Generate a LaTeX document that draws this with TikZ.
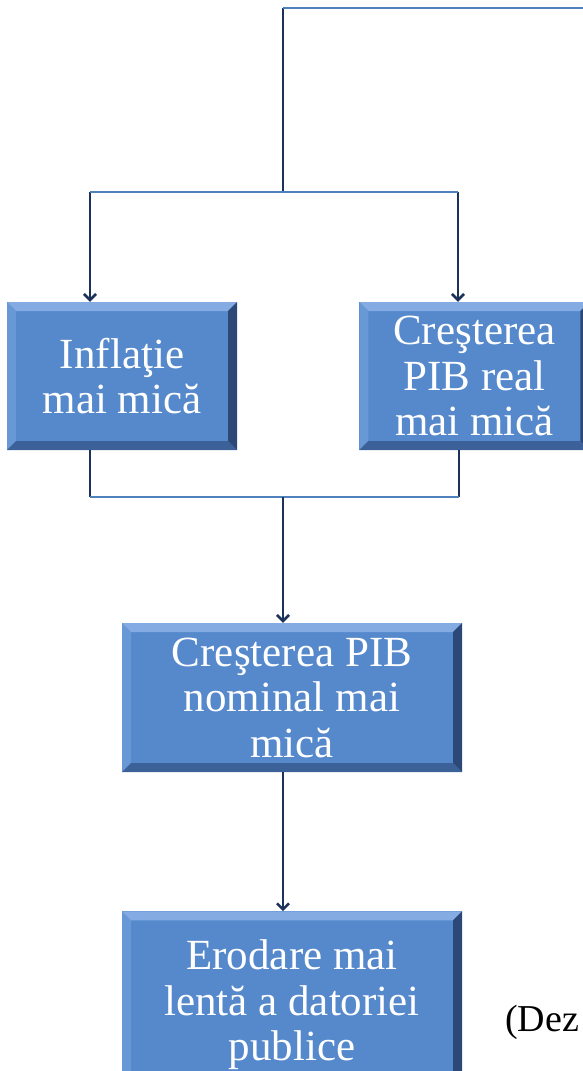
\documentclass[tikz,border=0pt]{standalone}
\usepackage{fontspec}
\setmainfont{Liberation Serif}
\usetikzlibrary{arrows.meta, positioning}
\definecolor{boxblue}{RGB}{85,137,204}
\definecolor{bevlight}{RGB}{132,172,226}
\definecolor{bevside}{RGB}{104,152,214}
\definecolor{bevdark}{RGB}{44,72,118}
\definecolor{bevbottom}{RGB}{60,96,152}
\definecolor{linkblue}{RGB}{79,129,189}
\definecolor{navy}{RGB}{28,50,90}

\begin{document}
\begin{tikzpicture}[
    x=1pt, y=-1pt,
    bevelbox/.style={rectangle, fill=boxblue, inner sep=0pt, minimum width=230pt, minimum height=148pt,
      path picture={
        \path (path picture bounding box.north west) coordinate (nw)
              (path picture bounding box.north east) coordinate (ne)
              (path picture bounding box.south east) coordinate (se)
              (path picture bounding box.south west) coordinate (sw);
        \fill[bevlight] (nw) -- (ne) -- ([shift={(-9pt,-9pt)}]ne) -- ([shift={(9pt,-9pt)}]nw) -- cycle;
        \fill[bevside] (nw) -- (sw) -- ([shift={(9pt,9pt)}]sw) -- ([shift={(9pt,-9pt)}]nw) -- cycle;
        \fill[bevdark] (ne) -- (se) -- ([shift={(-9pt,9pt)}]se) -- ([shift={(-9pt,-9pt)}]ne) -- cycle;
        \fill[bevbottom] (sw) -- (se) -- ([shift={(-9pt,9pt)}]se) -- ([shift={(9pt,9pt)}]sw) -- cycle;
      }},
    boxtext/.style={text=white, align=center, inner sep=0pt, font=\fontsize{43}{45.5}\selectfont},
    link/.style={line width=2.6pt, linkblue},
    stem/.style={line width=2.6pt, navy},
    arrow/.style={stem, -{Straight Barb[length=6pt, width=12pt]}}
]
\useasboundingbox (0,0) rectangle (583,1071);

\node[bevelbox] (inflatie) at (122,376) {};
\node[bevelbox, right=122pt of inflatie] (pibreal) {};
\node[bevelbox, minimum width=340pt, minimum height=149pt] (pibnominal) at (292,697.5) {};
\node[bevelbox, minimum width=340pt, minimum height=187pt, below=139pt of pibnominal] (erodare) {};

\node[boxtext] (inflatietxt) at (inflatie) {Inflaţie\\mai mică};
\node[boxtext] (pibrealtxt) at (pibreal) {Creşterea\\PIB real\\mai mică};
\node[boxtext] (pibnominaltxt) at (pibnominal) {Creşterea PIB\\nominal mai\\mică};
\node[boxtext] (erodaretxt) at (erodare) {Erodare mai\\lentă a datoriei\\publice};

\node[anchor=base west, inner sep=0pt, font=\fontsize{38}{44}\selectfont] (dez) at (505,1031) {(Dez};

% connector points
\coordinate (top) at (283,8);
\coordinate (topend) at (590,8);
\coordinate (fork) at (283,192);
\coordinate (inL) at (90,192);
\coordinate (inR) at (458,192);
\coordinate (outL) at (90,497);
\coordinate (outR) at (459,497);
\coordinate (join) at (283,497);

% top branch
\draw[stem] (top) -- (fork);
\draw[link] (top) -- (topend);
\draw[arrow] (inL) -- (inL |- inflatie.north);
\draw[arrow] (inR) -- (inR |- pibreal.north);
\draw[link] (inL) -- (inR);

% merge
\draw[stem] (outL |- inflatie.south) -- (outL);
\draw[stem] (outR |- pibreal.south) -- (outR);
\draw[link] (outL) -- (outR);
\draw[arrow] (join) -- (join |- pibnominal.north);
\draw[arrow] (join |- pibnominal.south) -- (join |- erodare.north);

\end{tikzpicture}
\end{document}
